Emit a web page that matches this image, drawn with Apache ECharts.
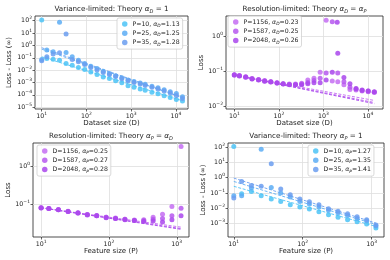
<!DOCTYPE html>
<html><head><meta charset="utf-8">
<script src="https://cdn.jsdelivr.net/npm/echarts@6/dist/echarts.min.js"></script>
<style>html,body{margin:0;padding:0;background:#fff}#c{width:390px;height:260px}</style>
</head><body><div id="c"></div>
<script>
// ---------- data ----------
const dGridVar = [10,13,18,25,35,48,66,91,125,172,237,326,448,616,848,1156,1587,2048,2900,3960,5430,7430,10180,13950];
const lossVarP10 = [115,0.087,0.075,0.063,0.035,0.025,0.016,0.011,0.007,0.0044,0.0028,0.0021,0.0014,0.00095,0.00055,0.0004,0.0003,0.00023,0.00016,0.00012,0.000085,0.00006,0.000042,0.000032];
const lossVarP25 = [0.072,0.42,0.3,74,0.27,0.12,0.063,0.035,0.021,0.0135,0.0081,0.0052,0.0035,0.0024,0.0016,0.0012,0.0009,0.0007,0.0005,0.00037,0.00026,0.00018,0.00013,0.00007];
const lossVarP35 = [0.056,0.12,0.2,0.25,8.3,0.072,0.047,0.029,0.016,0.01,0.0063,0.0044,0.003,0.002,0.0014,0.001,0.00075,0.00058,0.0004,0.0003,0.0002,0.00014,0.00009,0.00005];
const fitVarD = [10,13950];
const fitVarP10 = [0.12,0.000033];
const fitVarP25 = [0.5,0.000059];
const fitVarP35 = [0.65,0.000061];
const alphaVarD = ['1.13','1.25','1.28'];

const dGridRes = [10,13,18,25,35,48,66,91,125,172,237,326,448,616,848,1156,1587,2048,2110,2900,3960,5430,7430,10180,13950];
const lossResP1156 = [0.080,0.076,0.070,0.062,0.058,0.054,0.050,0.047,0.044,0.043,0.043,0.045,0.056,0.063,0.094,3.0,0.053,'-',0.050,0.041,0.030,0.029,0.027,0.026,0.025];
const lossResP1587 = [0.079,0.075,0.069,0.061,0.057,0.053,0.050,0.046,0.044,0.042,0.042,0.043,0.048,0.054,0.063,0.089,2.7,'-',0.089,0.050,0.035,0.031,0.028,0.027,0.025];
const lossResP2048 = [0.078,0.074,0.068,0.060,0.056,0.052,0.049,0.046,0.043,0.041,0.041,0.041,0.044,0.047,0.047,0.056,0.094,2.6,0.33,0.066,0.044,0.032,0.029,0.027,0.026];
const fitResD = [10,13950];
const fitResP1156 = [0.078,0.0145];
const fitResP1587 = [0.078,0.0126];
const fitResP2048 = [0.078,0.0117];
const alphaResD = ['0.23','0.25','0.26'];

const pGrid = [10,13,18,25,35,48,66,91,125,172,237,326,448,616,848,1156];
const lossResD1156 = [0.079,0.076,0.071,0.064,0.058,0.052,0.049,0.044,0.042,0.039,0.037,0.038,0.044,0.053,0.085,3.4];
const lossResD1587 = [0.079,0.075,0.070,0.063,0.057,0.052,0.048,0.044,0.041,0.039,0.036,0.036,0.039,0.041,0.048,0.077];
const lossResD2048 = [0.078,0.075,0.070,0.063,0.057,0.051,0.048,0.043,0.041,0.038,0.036,0.034,0.035,0.033,0.038,0.048];
const fitResP = [10,1156];
const fitResD1156 = [0.079,0.024];
const fitResD1587 = [0.079,0.022];
const fitResD2048 = [0.079,0.021];
const alphaResP = ['0.25','0.27','0.28'];

const lossVarD10 = [107,0.089,0.126,0.066,0.04,0.028,0.017,0.012,0.009,0.0058,0.0038,0.0026,0.0018,0.0013,0.00095,0.00052];
const lossVarD25 = [0.066,0.066,0.21,71,0.23,0.1,0.054,0.028,0.019,0.012,0.0074,0.005,0.0033,0.0021,0.0015,0.00068];
const lossVarD35 = [0.047,0.56,0.3,0.27,7.9,0.18,0.076,0.04,0.026,0.017,0.0093,0.0063,0.0043,0.0028,0.0018,0.0008];
const fitVarP = [10,1156];
const fitVarD10 = [0.27,0.00065];
const fitVarD25 = [0.56,0.00087];
const fitVarD35 = [0.93,0.00107];
const alphaVarP = ['1.27','1.35','1.41'];

const ticksD = [10,100,1000,10000];
const ticksP = [10,100,1000];
const ticksY0 = [1e-5,1e-4,1e-3,1e-2,1e-1,1,10,100];
const ticksY1 = [0.01,0.1,1];
const ticksY2 = [0.1,1];
const ticksY3 = [1e-3,1e-2,1e-1,1,10,100];

// ---------- styling ----------
const blues = ['#4cc3f6','#5cadf4','#6b9ef0'];
const purples = ['#c46df2','#b658ef','#a946ec'];
const FONT = 'DejaVu Sans';
const ink = '#222';

function pairs(xs, ys){ const out=[]; xs.forEach((x,i)=>{ if(ys[i]!=='-') out.push([x, ys[i]]); }); return out; }
function powLabel(v){ const e=Math.round(Math.log10(v)); return '{b|10}{s|'+(e<0?'\u2212'+(-e):e)+'}'; }
const labelRich = { b:{fontSize:6.3,lineHeight:10,color:ink,fontFamily:FONT}, s:{fontSize:4.5,lineHeight:6,verticalAlign:'top',color:ink,fontFamily:FONT} };

const grids = [
  {left:35, top:16, width:153, height:93},
  {left:226, top:16, width:157, height:93},
  {left:33, top:143, width:156, height:94},
  {left:228, top:143, width:156, height:94}
];
const xr = [[7.08,18540],[6.5,21900],[7.6,1514],[8.24,1514]];
const yr = [[7.1e-6,240],[0.0082,3.95],[0.0131,4.23],[1.32e-4,182]];
const xt = [ticksD,ticksD,ticksP,ticksP];
const yt = [ticksY0,ticksY1,ticksY2,ticksY3];
const xNames = ['Dataset size (D)','Dataset size (D)','Feature size (P)','Feature size (P)'];
const yNames = ['Loss - Loss (\u221e)','Loss','Loss','Loss - Loss (\u221e)'];
const yGaps = [22,19,20,21];

function mkAxis(i, isX){
  return {
    type:'log', logBase:10, gridIndex:i,
    min: isX? xr[i][0]: yr[i][0], max: isX? xr[i][1]: yr[i][1],
    name: isX? xNames[i]: yNames[i], nameLocation:'middle', nameGap: isX? 8.5: yGaps[i],
    nameTextStyle:{fontSize:7, color:ink, fontFamily:FONT},
    axisLine:{show:false},
    axisTick:{show:true, inside:false, length:2.5, lineStyle:{color:ink,width:0.7}, customValues: isX? xt[i]: yt[i]},
    axisLabel:{show:true, margin: isX?2:3, formatter: powLabel, rich: labelRich, customValues: isX? xt[i]: yt[i]},
    splitLine:{show:true, lineStyle:{color:'#dedede', width:0.8}},
    minorTick:{show:false}
  };
}

const series = [];
function addPanel(gi, xs, ysList, fitX, fitList, names, colors){
  ysList.forEach((ys,k)=>{
    series.push({type:'line', name:'fit '+names[k], xAxisIndex:gi, yAxisIndex:gi, data:pairs(fitX, fitList[k]),
      symbol:'none', silent:true, z:2, lineStyle:{color:colors[k], width:1, type:[3,1.6], opacity:0.9}});
    series.push({type:'scatter', name:names[k], xAxisIndex:gi, yAxisIndex:gi, data:pairs(xs, ys),
      symbolSize:5, z:3, itemStyle:{color:colors[k], opacity:0.85}});
  });
}
addPanel(0, dGridVar, [lossVarP10,lossVarP25,lossVarP35], fitVarD, [fitVarP10,fitVarP25,fitVarP35], ['P=10','P=25','P=35'], blues);
addPanel(1, dGridRes, [lossResP1156,lossResP1587,lossResP2048], fitResD, [fitResP1156,fitResP1587,fitResP2048], ['P=1156','P=1587','P=2048'], purples);
addPanel(2, pGrid, [lossResD1156,lossResD1587,lossResD2048], fitResP, [fitResD1156,fitResD1587,fitResD2048], ['D=1156','D=1587','D=2048'], purples);
addPanel(3, pGrid, [lossVarD10,lossVarD25,lossVarD35], fitVarP, [fitVarD10,fitVarD25,fitVarD35], ['D=10','D=25','D=35'], blues);

const alphaMap = {};
[['P=10','P=25','P=35'],['P=1156','P=1587','P=2048']].forEach((ns,j)=>ns.forEach((n,k)=>alphaMap[n]=['D',[alphaVarD,alphaResD][j][k]]));
[['D=1156','D=1587','D=2048'],['D=10','D=25','D=35']].forEach((ns,j)=>ns.forEach((n,k)=>alphaMap[n]=['P',[alphaResP,alphaVarP][j][k]]));

const legendRich = {
  i:{fontStyle:'italic', fontSize:6.2, lineHeight:8, color:ink, fontFamily:FONT},
  sub:{fontStyle:'italic', fontSize:4.4, lineHeight:5, verticalAlign:'bottom', color:ink, fontFamily:FONT}
};
function mkLegend(names, left, top){
  return {orient:'vertical', left:left, top:top, data:names.map(n=>({name:n, icon:'circle'})),
    itemWidth:5.5, itemHeight:5.5, itemGap:1.3, padding:[2,3,2.5,5],
    backgroundColor:'rgba(255,255,255,0.85)', borderColor:'#cfcfcf', borderWidth:0.8, borderRadius:2,
    selectedMode:false,
    formatter: n=>n+', {i|\u03b1}{sub|'+alphaMap[n][0]+'}='+alphaMap[n][1],
    textStyle:{fontSize:6.2, lineHeight:8, color:ink, fontFamily:FONT, rich:legendRich}};
}

const titleRich = {
  i:{fontStyle:'italic', fontSize:7.2, lineHeight:10, color:ink, fontFamily:FONT},
  sub:{fontStyle:'italic', fontSize:5, lineHeight:6, verticalAlign:'bottom', color:ink, fontFamily:FONT}
};
function mkTitle(text, cx, top){
  return {text:text, left:cx, top:top, textAlign:'center', padding:0,
    textStyle:{fontSize:7.2, fontWeight:'normal', lineHeight:10, color:ink, fontFamily:FONT, rich:titleRich}};
}

const option = {
  animation:false,
  backgroundColor:'#fff',
  textStyle:{fontFamily:FONT},
  title:[
    mkTitle('Variance-limited: Theory {i|\u03b1}{sub|D} = 1', 111.5, 4),
    mkTitle('Resolution-limited: Theory {i|\u03b1}{sub|D} = {i|\u03b1}{sub|P}', 304.5, 4),
    mkTitle('Resolution-limited: Theory {i|\u03b1}{sub|P} = {i|\u03b1}{sub|D}', 111, 131),
    mkTitle('Variance-limited: Theory {i|\u03b1}{sub|P} = 1', 306, 131)
  ],
  grid: grids.map(g=>Object.assign({show:true, borderColor:ink, borderWidth:0.8, backgroundColor:'transparent'}, g)),
  xAxis:[0,1,2,3].map(i=>mkAxis(i,true)),
  yAxis:[0,1,2,3].map(i=>mkAxis(i,false)),
  legend:[
    mkLegend(['P=10','P=25','P=35'],117,18),
    mkLegend(['P=1156','P=1587','P=2048'],228,16),
    mkLegend(['D=1156','D=1587','D=2048'],37,145),
    mkLegend(['D=10','D=25','D=35'],308,145)
  ],
  series: series
};
const chart = echarts.init(document.getElementById('c'), null, {renderer:'canvas'});
chart.setOption(option);
</script></body></html>
